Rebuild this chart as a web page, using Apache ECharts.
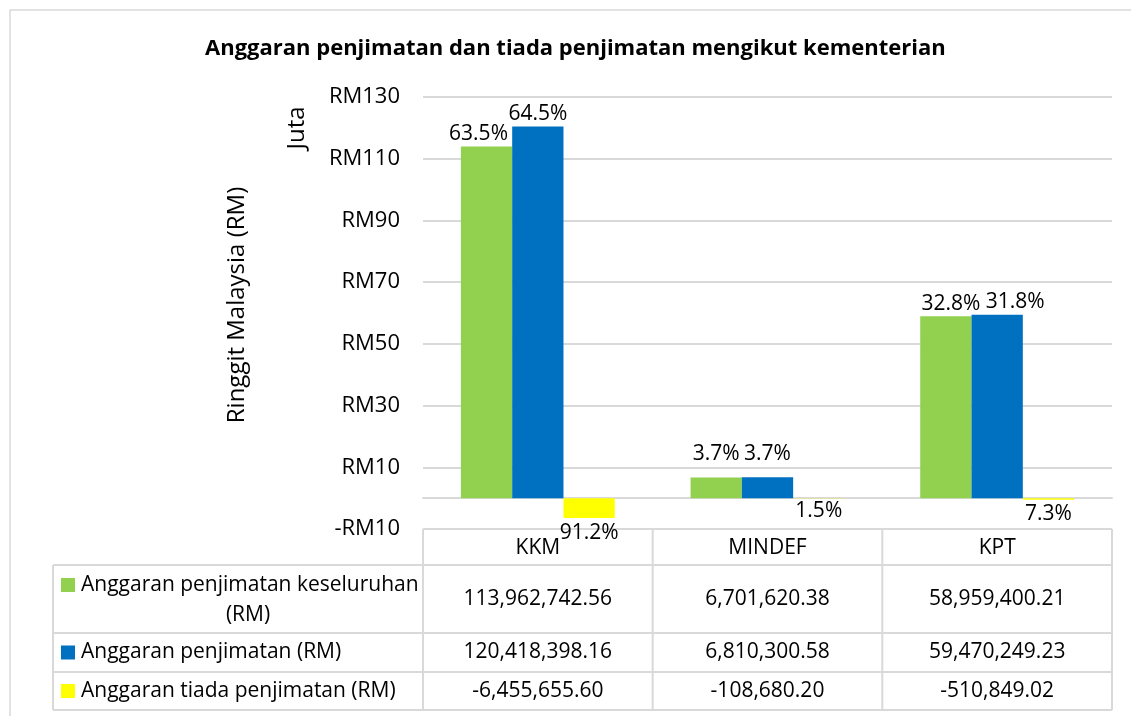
<!DOCTYPE html>
<html>
<head>
<meta charset="UTF-8" />
<title>Anggaran penjimatan</title>
<style>
    html, body { margin: 0; padding: 0; background: #fff; }
    #container { width: 1131px; height: 716px; }
</style>
</head>
<body>
<div id="container"></div>
<script src="https://cdn.jsdelivr.net/npm/echarts@6/dist/echarts.min.js"></script>
<script type="text/javascript">

    // kementerian
    var categories = ['KKM', 'MINDEF', 'KPT'];

    // nilai dalam RM (jadual), carta guna juta
    var keseluruhan = [113962742.56, 6701620.38, 58959400.21];
    var penjimatan = [120418398.16, 6810300.58, 59470249.23];
    var tiada = [-6455655.60, -108680.20, -510849.02];

    // label peratus atas bar
    var pctKeseluruhan = ['63.5%', '3.7%', '32.8%'];
    var pctPenjimatan = ['64.5%', '3.7%', '31.8%'];
    var pctTiada = ['91.2%', '1.5%', '7.3%'];

    var seriesNames = [
        ['Anggaran penjimatan keseluruhan', '(RM)'],
        ['Anggaran penjimatan (RM)'],
        ['Anggaran tiada penjimatan (RM)']
    ];
    var colors = ['#92D050', '#0070C0', '#FFFF00'];

    var yTicks = [-10, 10, 30, 50, 70, 90, 110, 130];

    // anjakan label [x, y] px supaya tak bertindih, macam excel
    var shiftKeseluruhan = [[-8, 0], [0, -11], [5, 0]];
    var shiftPenjimatan = [[0, 0], [0, -11], [18, 0]];
    var shiftTiada = [[0, 2], [0, 0], [0, 2]];

    var FONT = '"Open Sans", "Noto Sans", sans-serif';
    var LINE = '#d9d9d9';
    var FS = 21;

    function fmt(v) {
        return v.toLocaleString('en-US', {minimumFractionDigits: 2, maximumFractionDigits: 2});
    }

    function barSeries(name, data, pct, shift, color, pos) {
        return {
            name: name,
            type: 'bar',
            data: data.map(function (v, i) {
                return {value: v / 1e6, label: {offset: shift[i]}};
            }),
            barGap: '0%',
            barCategoryGap: '33%',
            itemStyle: {color: color},
            label: {
                show: true,
                position: pos,
                distance: 2,
                color: '#000',
                fontFamily: FONT,
                fontSize: 21,
                formatter: function (p) { return pct[p.dataIndex]; }
            }
        };
    }

    var dom = document.getElementById('container');
    var myChart = echarts.init(dom);

    var option = {
        animation: false,
        textStyle: {fontFamily: FONT},
        title: {
            text: 'Anggaran penjimatan dan tiada penjimatan mengikut kementerian',
            left: 200,
            top: 33,
            textStyle: {fontFamily: FONT, fontSize: 22, fontWeight: 'bold', color: '#000'}
        },
        grid: {left: 423, right: 19, top: 97, bottom: 187},
        xAxis: {
            type: 'category',
            data: categories,
            axisLine: {onZero: true, lineStyle: {color: LINE, width: 2}},
            axisTick: {show: false},
            axisLabel: {show: false}
        },
        yAxis: {
            type: 'value',
            min: yTicks[0],
            max: yTicks[yTicks.length - 1],
            interval: 20,
            axisLine: {show: false},
            axisTick: {show: false},
            splitLine: {lineStyle: {color: LINE, width: 2}},
            axisLabel: {
                margin: 23,
                color: '#000',
                fontFamily: FONT,
                fontSize: 22,
                formatter: function (v) { return (v < 0 ? '-RM' : 'RM') + Math.abs(v); }
            }
        },
        series: [
            barSeries('keseluruhan', keseluruhan, pctKeseluruhan, shiftKeseluruhan, colors[0], 'top'),
            barSeries('penjimatan', penjimatan, pctPenjimatan, shiftPenjimatan, colors[1], 'top'),
            barSeries('tiada', tiada, pctTiada, shiftTiada, colors[2], 'bottom')
        ]
    };

    myChart.setOption(option);

    // jadual data di bawah carta
    function buildTable() {
        var gTop = 529, rows = [565, 633, 672, 710];
        var tLeft = 53, colX = 423, tRight = 1112;
        var els = [];
        var font = FS + 'px ' + FONT;

        // bingkai carta
        els.push({type: 'rect', shape: {x: 10, y: 10, width: 1140, height: 720},
            style: {fill: 'none', stroke: LINE, lineWidth: 1.5}, silent: true});

        // tajuk paksi
        els.push({type: 'text', x: 237, y: 305, rotation: Math.PI / 2,
            style: {text: 'Ringgit Malaysia (RM)', font: '24px ' + FONT, fill: '#000',
                align: 'center', verticalAlign: 'middle'}});
        els.push({type: 'text', x: 297, y: 128, rotation: Math.PI / 2,
            style: {text: 'Juta', font: '24px ' + FONT, fill: '#000',
                align: 'center', verticalAlign: 'middle'}});

        var lineStyle = {stroke: LINE, lineWidth: 2};
        function hline(x1, x2, y) {
            els.push({type: 'line', shape: {x1: x1, y1: y, x2: x2, y2: y}, style: lineStyle, silent: true});
        }
        function vline(x, y1, y2) {
            els.push({type: 'line', shape: {x1: x, y1: y1, x2: x, y2: y2}, style: lineStyle, silent: true});
        }

        hline(colX, tRight, gTop);
        rows.forEach(function (y) { hline(tLeft, tRight, y); });
        vline(tLeft, rows[0], rows[3]);

        var centers = categories.map(function (c) {
            return myChart.convertToPixel({xAxisIndex: 0}, c);
        });
        var colW = (tRight - colX) / categories.length;
        for (var i = 0; i <= categories.length; i++) {
            vline(colX + colW * i, gTop, rows[3]);
        }

        categories.forEach(function (c, i) {
            els.push({type: 'text', x: centers[i], y: (gTop + rows[0]) / 2 + 1,
                style: {text: c, font: font, fill: '#000', align: 'center', verticalAlign: 'middle'}});
        });

        var tableData = [keseluruhan, penjimatan, tiada];
        tableData.forEach(function (arr, r) {
            var yc = (rows[r] + rows[r + 1]) / 2;
            arr.forEach(function (v, i) {
                els.push({type: 'text', x: centers[i], y: yc,
                    style: {text: fmt(v), font: font, fill: '#000', align: 'center', verticalAlign: 'middle'}});
            });
            // kunci legend + nama siri
            var nm = seriesNames[r];
            var firstY = nm.length > 1 ? rows[r] + 20 : yc;
            els.push({type: 'rect', shape: {x: 61, y: firstY - 7, width: 14, height: 14},
                style: {fill: colors[r]}, silent: true});
            els.push({type: 'text', x: 81, y: firstY,
                style: {text: nm[0], font: font, fill: '#000', align: 'left', verticalAlign: 'middle'}});
            if (nm.length > 1) {
                els.push({type: 'text', x: 248, y: firstY + 30,
                    style: {text: nm[1], font: font, fill: '#000', align: 'center', verticalAlign: 'middle'}});
            }
        });

        myChart.setOption({graphic: els});
    }

    buildTable();
</script>
</body>
</html>
